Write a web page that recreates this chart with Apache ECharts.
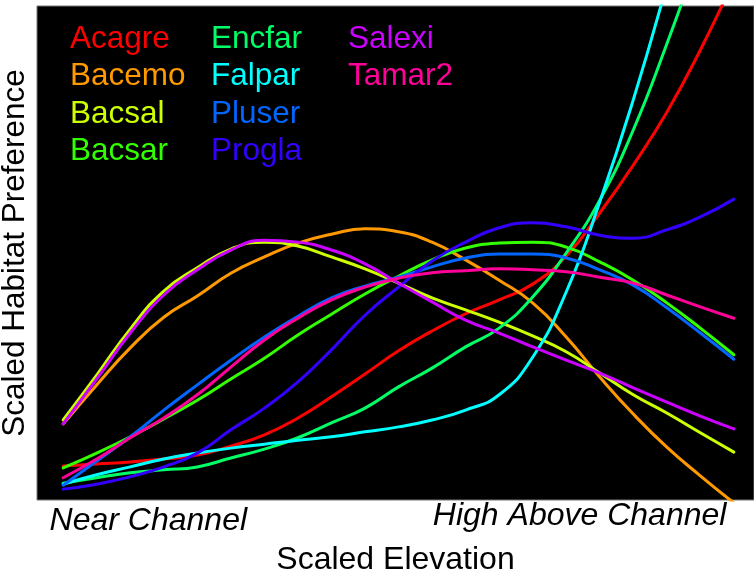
<!DOCTYPE html>
<html>
<head>
<meta charset="utf-8">
<title>Scaled Habitat Preference</title>
<script src="https://cdn.jsdelivr.net/npm/echarts@6/dist/echarts.min.js"></script>
<style>
  html, body { margin: 0; padding: 0; background: #fff; }
  #main { width: 754px; height: 573px; }
</style>
</head>
<body>
<div id="main"></div>
<script>
// scaled elevation positions (0 = near channel, 100 = high above channel)
const elevation = [0, 5, 10, 15, 20, 25, 30, 35, 40, 45, 50, 55, 60, 65, 70, 75, 80, 85, 90, 95, 100];

// scaled habitat preference
const acagre = [6.9, 7.3, 7.7, 8.3, 9.1, 10.9, 13.2, 16.6, 20.9, 25.5, 30.2, 34.2, 37.7, 40.5, 43.7, 49.4, 58.1, 67.8, 78.5, 91.1, 105.3];
const bacemo = [15.4, 23.3, 30.8, 37.0, 41.3, 45.9, 49.2, 52.0, 53.8, 54.9, 54.3, 52.2, 48.6, 44.5, 39.9, 33.0, 24.9, 17.4, 10.7, 4.9, -0.6];
const bacsal = [16.2, 25.3, 34.6, 42.3, 47.0, 50.8, 52.2, 51.4, 49.2, 46.8, 43.9, 40.9, 38.5, 36.0, 33.2, 30.0, 25.7, 21.3, 17.6, 13.6, 9.7];
const bacsar = [6.5, 9.5, 12.8, 16.4, 20.2, 24.5, 28.7, 33.4, 37.6, 41.7, 45.3, 48.6, 51.0, 52.0, 52.2, 51.2, 48.2, 44.5, 39.9, 34.8, 29.4];
const encfar = [3.4, 4.5, 5.5, 6.1, 6.7, 8.5, 10.3, 12.6, 15.6, 18.6, 22.9, 26.7, 31.0, 34.8, 41.1, 50.0, 60.7, 74.9, 92.3, 111.3, null];
const falpar = [3.2, 5.1, 6.7, 8.3, 9.5, 10.5, 11.3, 12.1, 12.8, 13.8, 14.8, 16.2, 18.2, 21.3, 28.9, 42.1, 60.3, 81.0, 104.3, null, null];
const pluser = [3.0, 7.9, 12.8, 18.2, 23.3, 28.3, 33.0, 37.2, 40.9, 43.3, 45.1, 47.2, 49.0, 49.8, 49.8, 49.0, 46.6, 43.5, 38.9, 33.8, 28.5];
const progla = [2.2, 3.2, 4.7, 6.7, 9.5, 14.2, 18.6, 23.9, 30.4, 37.4, 43.1, 48.4, 52.2, 55.1, 56.1, 55.3, 53.6, 53.0, 54.7, 57.3, 60.9];
const salexi = [15.4, 24.5, 33.8, 41.5, 46.6, 50.6, 52.6, 52.2, 50.6, 47.8, 43.9, 40.1, 36.4, 33.8, 31.0, 28.3, 25.7, 22.7, 19.8, 17.0, 14.4];
const tamar2 = [4.5, 8.3, 12.6, 16.6, 21.3, 26.9, 32.4, 36.8, 40.5, 43.1, 44.9, 46.0, 46.4, 46.8, 46.6, 46.2, 45.1, 43.9, 41.5, 39.1, 36.8];

const speciesNames = ['Acagre', 'Bacemo', 'Bacsal', 'Bacsar', 'Encfar', 'Falpar', 'Pluser', 'Progla', 'Salexi', 'Tamar2'];
const speciesValues = [acagre, bacemo, bacsal, bacsar, encfar, falpar, pluser, progla, salexi, tamar2];
const colors = ['#FF0000', '#FF9900', '#CCFF00', '#33FF00', '#00FF66', '#00FFFF', '#0066FF', '#3300FF', '#CC00FF', '#FF0099'];

// x tick labels
const tickValues = [12.7, 77];
const tickLabels = ['Near Channel', 'High Above Channel'];

const font = '"Liberation Sans", Arial, sans-serif';

let myChart = echarts.init(document.getElementById('main'));

function legendColumn(names, left) {
  return {
    orient: 'vertical',
    left: left,
    top: 23,
    padding: 0,
    icon: 'none',
    itemWidth: 0,
    itemHeight: 30,
    itemGap: 5.5,
    selectedMode: false,
    data: names.map(n => ({
      name: n,
      textStyle: { color: colors[speciesNames.indexOf(n)] }
    })),
    textStyle: { fontFamily: font, fontSize: 31.5 }
  };
}

myChart.setOption({
  animation: false,
  backgroundColor: '#fff',
  legend: [
    legendColumn(speciesNames.slice(0, 4), 65),
    legendColumn(speciesNames.slice(4, 8), 206),
    legendColumn(speciesNames.slice(8), 343)
  ],
  grid: {
    left: 37, right: 0, top: 6, bottom: 73,
    outerBoundsMode: 'none',
    containLabel: false,
    show: true,
    backgroundColor: '#000',
    borderColor: '#777',
    borderWidth: 1
  },
  xAxis: {
    type: 'value',
    min: -3.9,
    max: 103,
    name: 'Scaled Elevation',
    nameLocation: 'middle',
    nameGap: 44,
    nameTextStyle: { fontFamily: font, fontSize: 32, color: '#000' },
    axisLine: { show: false },
    axisTick: { show: false },
    splitLine: { show: false },
    axisLabel: {
      customValues: tickValues,
      margin: 0,
      color: '#000',
      formatter: function (v) {
        let i = tickValues.indexOf(v);
        return i === 0 ? '{near|' + tickLabels[0] + '}' : '{high|' + tickLabels[1] + '}';
      },
      rich: {
        near: { fontFamily: font, fontSize: 32, fontStyle: 'italic', color: '#000', padding: [5, 0, 0, 0] },
        high: { fontFamily: font, fontSize: 32, fontStyle: 'italic', color: '#000' }
      }
    }
  },
  yAxis: {
    type: 'value',
    min: 0,
    max: 100,
    name: 'Scaled Habitat Preference',
    nameLocation: 'middle',
    nameGap: 6,
    nameTextStyle: { fontFamily: font, fontSize: 31.5, color: '#000' },
    axisLine: { show: false },
    axisTick: { show: false },
    axisLabel: { show: false },
    splitLine: { show: false }
  },
  series: speciesNames.map((name, i) => ({
    name: name,
    type: 'line',
    smooth: 0.5,
    symbol: 'none',
    clip: true,
    color: colors[i],
    lineStyle: { width: 3, color: colors[i], cap: 'round' },
    data: elevation.map((x, j) => [x, speciesValues[i][j]])
  }))
});
</script>
</body>
</html>
